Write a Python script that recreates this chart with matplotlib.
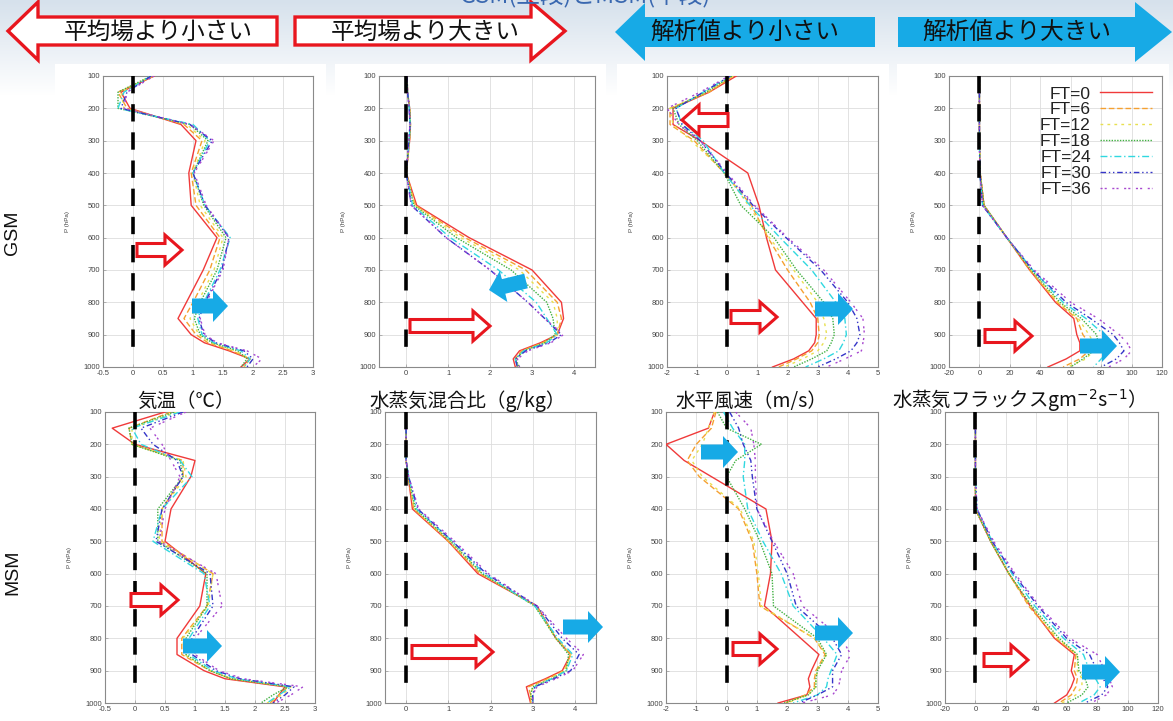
import matplotlib
matplotlib.use("Agg")
import matplotlib.pyplot as plt
import numpy as np
from matplotlib.patches import Polygon, Rectangle
from matplotlib.ticker import FuncFormatter, MultipleLocator

plt.rcParams['font.family'] = ['Liberation Sans', 'Noto Sans CJK JP', 'DejaVu Sans']

# ---------------- data ----------------
levels = [100, 150, 200, 250, 300, 400, 500, 600, 700, 800, 850, 900, 925, 950, 975, 1000]
series_labels = ['FT=0', 'FT=6', 'FT=12', 'FT=18', 'FT=24', 'FT=30', 'FT=36']

gsm_temp = [
    [0.35, -0.2, -0.05, 0.8, 1.05, 0.93, 0.97, 1.4, 1.17, 0.89, 0.75, 0.97, 1.19, 1.6, 1.95, 1.8],
    [0.35, -0.25, -0.1, 0.85, 1.15, 0.97, 1.05, 1.45, 1.28, 1.0, 0.85, 1.05, 1.25, 1.65, 1.95, 1.85],
    [0.3, -0.2, -0.15, 0.9, 1.2, 1.0, 1.12, 1.5, 1.35, 1.08, 0.95, 1.1, 1.3, 1.7, 1.95, 1.85],
    [0.3, -0.25, -0.25, 0.95, 1.25, 1.0, 1.18, 1.55, 1.4, 1.12, 1.02, 1.12, 1.32, 1.75, 1.9, 1.8],
    [0.3, -0.15, -0.25, 1.0, 1.28, 1.0, 1.2, 1.62, 1.45, 1.18, 1.08, 1.15, 1.35, 1.8, 1.95, 1.85],
    [0.3, -0.1, -0.2, 0.95, 1.32, 1.0, 1.2, 1.6, 1.48, 1.2, 1.1, 1.18, 1.38, 1.85, 2.0, 1.9],
    [0.35, -0.1, -0.15, 0.95, 1.35, 1.02, 1.22, 1.6, 1.5, 1.22, 1.12, 1.2, 1.4, 1.9, 2.15, 2.0],
]
gsm_mix = [
    [0.02, 0.03, 0.08, 0.1, 0.08, 0.0, 0.25, 1.5, 3.0, 3.7, 3.75, 3.6, 3.2, 2.7, 2.55, 2.6],
    [0.02, 0.03, 0.08, 0.1, 0.08, 0.0, 0.22, 1.4, 2.85, 3.6, 3.7, 3.6, 3.25, 2.75, 2.6, 2.65],
    [0.02, 0.03, 0.08, 0.1, 0.07, 0.0, 0.2, 1.3, 2.7, 3.5, 3.6, 3.6, 3.3, 2.8, 2.6, 2.65],
    [0.02, 0.03, 0.08, 0.1, 0.07, 0.0, 0.18, 1.2, 2.5, 3.35, 3.5, 3.55, 3.3, 2.8, 2.6, 2.7],
    [0.02, 0.03, 0.07, 0.09, 0.07, 0.0, 0.15, 1.05, 2.2, 3.1, 3.35, 3.6, 3.35, 2.8, 2.6, 2.65],
    [0.02, 0.03, 0.07, 0.09, 0.06, 0.0, 0.12, 0.95, 2.0, 2.9, 3.3, 3.7, 3.4, 2.85, 2.6, 2.65],
    [0.02, 0.03, 0.07, 0.09, 0.06, 0.0, 0.12, 0.95, 2.0, 2.9, 3.3, 3.75, 3.45, 2.9, 2.65, 2.7],
]
gsm_wind = [
    [0.3, -0.6, -1.8, -1.8, -0.9, 0.68, 1.05, 1.3, 1.6, 2.5, 2.95, 2.95, 2.9, 2.7, 2.2, 1.5],
    [0.2, -0.6, -1.9, -1.9, -1.1, -0.1, 0.8, 1.35, 2.0, 2.75, 3.0, 3.05, 3.0, 2.8, 2.3, 1.7],
    [0.2, -0.7, -1.9, -1.8, -1.2, -0.05, 0.7, 1.4, 2.2, 3.0, 3.2, 3.3, 3.2, 3.0, 2.5, 1.9],
    [0.15, -0.7, -1.8, -1.6, -1.0, -0.1, 0.45, 1.55, 2.3, 3.2, 3.5, 3.55, 3.45, 3.3, 2.8, 2.2],
    [0.1, -0.8, -1.7, -1.5, -0.8, -0.1, 0.75, 1.75, 2.8, 3.6, 3.9, 3.95, 3.85, 3.7, 3.2, 2.6],
    [0.1, -0.8, -1.7, -1.5, -0.9, -0.05, 0.85, 1.95, 3.1, 4.0, 4.3, 4.4, 4.3, 4.1, 3.6, 3.0],
    [0.05, -0.9, -2.0, -1.6, -0.9, 0.0, 0.9, 2.0, 3.2, 4.1, 4.5, 4.55, 4.5, 4.45, 3.9, 3.3],
]
gsm_flux = [
    [0, 0, 0, 0, 0, 0.5, 3, 18, 33, 50, 62, 64, 66, 66, 57, 45],
    [0, 0, 0, 0, 0, 0.5, 3, 18, 33, 51, 64, 68, 72, 72, 66, 55],
    [0, 0, 0, 0, 0, 0.5, 3, 18, 34, 52, 65, 72, 75, 75, 70, 58],
    [0, 0, 0, 0, 0, 0.5, 3, 18, 34, 53, 67, 77, 78, 75, 68, 60],
    [0, 0, 0, 0, 0, 0.3, 2, 18, 35, 55, 70, 82, 85, 85, 80, 75],
    [0, 0, 0, 0, 0, 0.3, 2, 18, 35, 57, 73, 88, 92, 95, 90, 80],
    [0, 0, 0, 0, 0, 0.3, 2, 18, 36, 60, 78, 92, 97, 100, 95, 85],
]
msm_temp = [
    [0.5, -0.38, 0.0, 1.0, 0.93, 0.6, 0.5, 1.18, 1.08, 0.7, 0.7, 1.15, 1.5, 2.5, 2.4, 2.3],
    [0.6, -0.1, -0.05, 0.8, 0.8, 0.45, 0.45, 1.3, 1.2, 0.78, 0.78, 1.25, 1.6, 2.55, 2.4, 2.25],
    [0.7, -0.05, -0.05, 0.8, 0.85, 0.45, 0.4, 1.3, 1.22, 0.8, 0.82, 1.25, 1.6, 2.6, 2.45, 2.2],
    [0.65, -0.1, -0.05, 0.75, 0.8, 0.38, 0.38, 1.2, 1.2, 0.85, 0.85, 1.25, 1.6, 2.55, 2.3, 2.1],
    [0.75, -0.05, 0.1, 0.75, 0.95, 0.45, 0.3, 1.15, 1.25, 0.9, 0.9, 1.3, 1.7, 2.6, 2.4, 2.2],
    [0.8, 0.1, 0.3, 0.7, 0.8, 0.45, 0.35, 1.25, 1.3, 0.95, 0.95, 1.35, 1.75, 2.65, 2.5, 2.3],
    [0.85, 0.25, 0.45, 0.6, 0.75, 0.5, 0.4, 1.35, 1.45, 1.0, 1.0, 1.4, 1.8, 2.8, 2.6, 2.35],
]
msm_mix = [
    [0, 0, 0, 0, 0.05, 0.15, 1.0, 1.7, 3.1, 3.55, 3.9, 3.7, 3.3, 2.85, 2.9, 2.95],
    [0, 0, 0, 0, 0.05, 0.18, 1.0, 1.75, 3.1, 3.55, 3.9, 3.75, 3.35, 2.9, 2.95, 2.95],
    [0, 0, 0, 0, 0.05, 0.2, 1.05, 1.8, 3.05, 3.55, 3.9, 3.75, 3.4, 3.0, 2.95, 3.0],
    [0, 0, 0, 0, 0.05, 0.22, 1.05, 1.8, 3.05, 3.55, 3.85, 3.8, 3.45, 3.0, 2.95, 3.0],
    [0, 0, 0, 0, 0.06, 0.25, 1.1, 1.85, 3.05, 3.6, 3.95, 3.8, 3.45, 3.05, 3.0, 3.0],
    [0, 0, 0, 0, 0.06, 0.28, 1.1, 1.9, 3.1, 3.7, 4.1, 3.9, 3.5, 3.05, 3.0, 3.0],
    [0, 0, 0, 0, 0.06, 0.3, 1.15, 1.95, 3.1, 3.8, 4.2, 3.95, 3.55, 3.1, 3.0, 3.0],
]
msm_wind = [
    [-0.4, -0.6, -2.0, -1.4, -0.5, 1.3, 1.5, 1.45, 1.25, 2.45, 3.05, 2.8, 2.7, 2.75, 2.65, 1.7],
    [-0.35, -0.5, -1.0, -1.3, -0.9, 0.4, 0.85, 1.0, 1.1, 2.9, 3.25, 2.95, 2.9, 2.9, 2.6, 1.95],
    [-0.4, -0.6, -0.8, -1.15, -0.8, 0.45, 0.9, 1.05, 1.15, 2.9, 3.3, 3.0, 2.95, 2.95, 2.7, 2.0],
    [-0.3, 0.0, 1.15, 0.3, 0.0, 0.6, 1.1, 1.5, 1.55, 3.0, 3.3, 3.0, 2.95, 2.95, 2.7, 1.9],
    [-0.1, 0.2, 0.6, 0.6, 0.55, 0.7, 1.2, 1.8, 2.2, 3.2, 3.65, 3.45, 3.35, 3.3, 3.0, 2.2],
    [0.1, 0.4, 0.55, 0.8, 0.85, 1.0, 1.5, 2.0, 2.3, 3.5, 3.8, 3.5, 3.5, 3.5, 3.0, 2.4],
    [0.3, 0.8, 0.9, 0.95, 0.95, 1.0, 1.55, 2.2, 2.5, 3.8, 4.1, 3.8, 3.75, 3.7, 3.5, 2.5],
]
msm_flux = [
    [0, 0, 0, 0, 0, 0, 10, 22, 36, 52, 65, 63, 65, 63, 60, 52],
    [0, 0, 0, 0, 0, 0, 10, 22, 35, 53, 66, 65, 67, 66, 63, 55],
    [0, 0, 0, 0, 0, 0, 10, 22, 36, 54, 67, 67, 70, 70, 66, 57],
    [0, 0, 0, 0, 0, 0, 10, 22, 37, 55, 67, 68, 72, 74, 70, 60],
    [0, 0, 0, 0, 0, 1, 11, 24, 39, 58, 71, 75, 79, 82, 78, 68],
    [0, 0, 0, 0, 0, 1, 11, 25, 41, 60, 75, 80, 84, 87, 83, 72],
    [0, 0, 0, 0, 0, 1, 12, 26, 42, 62, 80, 85, 88, 90, 86, 76],
]

column_titles = ['気温（℃）', '水蒸気混合比（g/kg）', '水平風速（m/s）', r'水蒸気フラックスgm$^{-2}$s$^{-1}$）']
row_labels = ['GSM', 'MSM']
header_labels = ['平均場より小さい', '平均場より大きい', '解析値より小さい', '解析値より大きい']
top_note = 'GSM(上段)とMSM(下段)'

# ---------------- styles ----------------
colors = ['#f03a3a', '#f5a030', '#e8e050', '#40b040', '#30d8e0', '#3535c8', '#a848d0']
styles = ['-', (0, (4, 2)), (0, (2, 3)), (0, (1, 1)), (0, (5, 2, 1, 2)),
          (0, (4, 2, 1, 2, 1, 2)), (0, (1.5, 1.5, 1.5, 4))]

W, H = 1173, 721
fig = plt.figure(figsize=(W / 100, H / 100), dpi=100)

# background
bg = fig.add_axes([0, 0, 1, 1], zorder=0)
grad = np.ones((H, 1, 3))
top_c = np.array([0xd6, 0xe1, 0xec]) / 255.0
for i in range(H):
    t = min(i / 95.0, 1.0)
    grad[i, 0, :] = top_c * (1 - t) + np.array([1, 1, 1]) * t
bg.imshow(grad, aspect='auto', extent=[0, W, H, 0])
bg.set_xlim(0, W)
bg.set_ylim(H, 0)
bg.axis('off')
for (x0, x1) in [(55, 326), (335, 606), (617, 889), (897, 1169)]:
    bg.add_patch(Rectangle((x0, 64), x1 - x0, 326, facecolor='white', edgecolor='none'))


def px_axes(x0, x1, ytop, ybot):
    return [x0 / W, (H - ybot) / H, (x1 - x0) / W, (ybot - ytop) / H]


panel_px = [
    [(103, 313), (379, 595), (667, 878), (949, 1162)],
    [(105, 315), (385, 596), (666, 878), (945, 1158)],
]
row_px = [(76, 367), (412, 703)]
xlims = [
    [(-0.5, 3), (-0.65, 4.5), (-2, 5), (-20, 120)],
    [(-0.5, 3), (-0.5, 4.5), (-2, 5), (-20, 120)],
]
xsteps = [0.5, 1, 1, 20]
data = [[gsm_temp, gsm_mix, gsm_wind, gsm_flux], [msm_temp, msm_mix, msm_wind, msm_flux]]

fmt = FuncFormatter(lambda v, p: ('%g' % v).replace('\u2212', '-'))
legend_ax = None
for r in range(2):
    for c in range(4):
        x0, x1 = panel_px[r][c]
        ax = fig.add_axes(px_axes(x0, x1, row_px[r][0], row_px[r][1]), zorder=2)
        ax.set_facecolor('white')
        for k in range(7):
            ax.plot(data[r][c][k], levels, color=colors[k], linestyle=styles[k], lw=1.0,
                    label=series_labels[k], zorder=3)
        ax.plot([0, 0], [100, 970], color='black', lw=2.6, dashes=(4.8, 3.0), zorder=4)
        ax.set_xlim(*xlims[r][c])
        ax.set_ylim(1000, 100)
        ax.xaxis.set_major_locator(MultipleLocator(xsteps[c]))
        ax.yaxis.set_major_locator(MultipleLocator(100))
        ax.xaxis.set_major_formatter(fmt)
        ax.yaxis.set_major_formatter(fmt)
        ax.grid(True, color='#dddddd', lw=0.6, zorder=0)
        ax.tick_params(labelsize=5.5, length=2, width=0.5, direction='in', colors='#999999',
                       labelcolor='#444444', pad=2)
        for s in ax.spines.values():
            s.set_color('#8a8a8a')
            s.set_linewidth(0.8)
        ax.set_ylabel('P (hPa)', fontsize=4.5, color='#444444', labelpad=10)
        if r == 0 and c == 3:
            legend_ax = ax

leg = legend_ax.legend(loc='upper right', frameon=False, markerfirst=False, fontsize=12.5,
                       handlelength=3.0, labelspacing=0.04, borderaxespad=0.3, borderpad=0.3,
                       handletextpad=0.5)
for t in leg.get_texts():
    t.set_color('#222222')

# ---------------- overlay ----------------
ov = fig.add_axes([0, 0, 1, 1], zorder=10)
ov.set_xlim(0, W)
ov.set_ylim(H, 0)
ov.axis('off')
ov.patch.set_alpha(0)


def arrow_poly(x0, y0, x1, y1, bh, hh, hl):
    p0 = np.array([x0, y0], float)
    p1 = np.array([x1, y1], float)
    d = p1 - p0
    L = np.hypot(*d)
    d = d / L
    n = np.array([-d[1], d[0]])
    b = p0 + d * (L - hl)
    return [p0 + n * bh, b + n * bh, b + n * hh, p1, b - n * hh, b - n * bh, p0 - n * bh]


RED = '#e8161e'
BLUE = '#17aae6'

# header arrows
ov.add_patch(Polygon(arrow_poly(277, 31, 8, 31, 14, 29, 30), closed=True,
                     facecolor='white', edgecolor=RED, lw=2.4))
ov.add_patch(Polygon(arrow_poly(295, 31, 565, 31, 14, 29, 34), closed=True,
                     facecolor='white', edgecolor=RED, lw=2.4))
ov.add_patch(Polygon(arrow_poly(875, 32, 615, 32, 15, 29, 30), closed=True,
                     facecolor=BLUE, edgecolor='none'))
ov.add_patch(Polygon(arrow_poly(898, 32, 1172, 32, 15, 30, 37), closed=True,
                     facecolor=BLUE, edgecolor='none'))
header_x = [158, 425, 745, 1017]
for hx, lab in zip(header_x, header_labels):
    ov.text(hx, 32, lab, fontsize=17, ha='center', va='center', color='#111111',
            family=['Noto Sans CJK JP', 'DejaVu Sans'])
ov.text(585, 3, top_note, fontsize=17, ha='center', va='baseline', color='#3a68b0',
        family=['Noto Sans CJK JP', 'DejaVu Sans'], clip_on=False)

# in-panel arrows: (tail_x, tail_y, tip_x, tip_y, kind)
panel_arrows = [
    (137, 250, 182, 250, 'r'), (192, 306, 228, 306, 'b'),
    (410, 326, 490, 326, 'r'), (526, 281, 489, 290, 'b'),
    (728, 120, 682, 120, 'r'), (731, 317, 777, 317, 'r'), (815, 309, 853, 309, 'b'),
    (985, 336, 1032, 336, 'r'), (1080, 346, 1117, 346, 'b'),
    (131, 600, 178, 600, 'r'), (183, 646, 222, 646, 'b'),
    (412, 652, 493, 652, 'r'), (563, 627, 603, 627, 'b'),
    (701, 452, 738, 452, 'b'), (733, 649, 777, 649, 'r'), (815, 633, 853, 633, 'b'),
    (984, 660, 1028, 660, 'r'), (1082, 672, 1120, 672, 'b'),
]
for (ax0, ay0, ax1, ay1, kind) in panel_arrows:
    if kind == 'r':
        ov.add_patch(Polygon(arrow_poly(ax0, ay0, ax1, ay1, 6.5, 15, 17), closed=True,
                             facecolor='white', edgecolor=RED, lw=2.2))
    else:
        ov.add_patch(Polygon(arrow_poly(ax0, ay0, ax1, ay1, 7.5, 16, 15), closed=True,
                             facecolor=BLUE, edgecolor='none'))

# column titles
title_pos = [(186, 'center'), (468, 'center'), (751, 'center'), (892, 'left')]
for (tx, ha), lab in zip(title_pos, column_titles):
    ov.text(tx, 401, lab, fontsize=14, ha=ha, va='center', color='#111111',
            family=['Noto Sans CJK JP', 'DejaVu Sans'])

# row labels
ov.text(13, 233, row_labels[0], fontsize=14, rotation=90, ha='center', va='center', color='#111111')
ov.text(13, 572, row_labels[1], fontsize=14, rotation=90, ha='center', va='center', color='#111111')

fig.savefig('out.png', dpi=100)
